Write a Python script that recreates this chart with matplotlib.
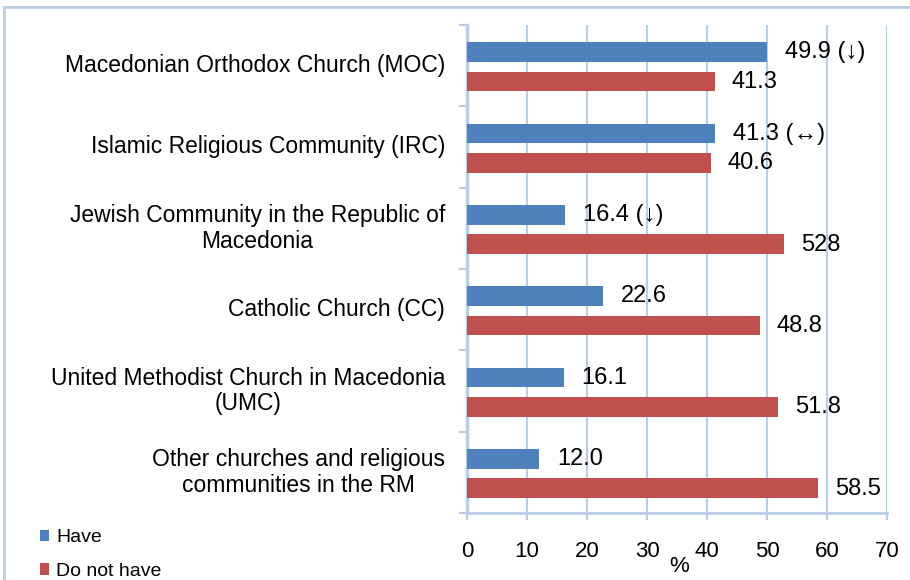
import matplotlib.pyplot as plt
import numpy as np
from matplotlib.patches import Rectangle

plt.rcParams['font.family'] = ['Liberation Sans', 'DejaVu Sans']

# data
categories = ['Macedonian Orthodox Church (MOC)',
              'Islamic Religious Community (IRC)',
              'Jewish Community in the Republic of\nMacedonia',
              'Catholic Church (CC)',
              'United Methodist Church in Macedonia\n(UMC)',
              'Other churches and religious\ncommunities in the RM']
have = [49.9, 41.3, 16.4, 22.6, 16.1, 12.0]
not_have = [41.3, 40.6, 52.8, 48.8, 51.8, 58.5]
have_labels = ['49.9 (\u2193)', '41.3 (\u2194)', '16.4 (\u2193)', '22.6', '16.1', '12.0']
not_have_labels = ['41.3', '40.6', '528', '48.8', '51.8', '58.5']

blue = '#4f81bd'
red = '#c0504d'
grid_c = '#b9cde5'

fig = plt.figure(figsize=(9.1, 5.8), dpi=100)
ax = fig.add_axes([0.513, 0.1155, 0.462, 0.8415])

# outer chart frame (cut off at right/bottom like the reference)
fig.patches.append(Rectangle((4 / 910, -0.1), 1.1, 1 - 7 / 580 + 0.1,
                             transform=fig.transFigure, fill=False,
                             edgecolor=grid_c, lw=2))

y = np.arange(len(categories))
h = 0.24
ax.barh(y - 0.165, have, height=h, color=blue, label='Have', zorder=3)
ax.barh(y + 0.195, not_have, height=h, color=red, label='Do not have', zorder=3)

for i in range(len(categories)):
    ax.text(have[i] + 3.0, y[i] - 0.165, have_labels[i], va='center', ha='left', fontsize=17)
    ax.text(not_have[i] + 2.8, y[i] + 0.2, not_have_labels[i], va='center', ha='left', fontsize=17)

ax.set_xlim(0, 70)
ax.set_ylim(len(categories) - 0.5, -0.5)
ax.set_xticks(range(0, 71, 10))
ax.tick_params(axis='x', labelsize=16, length=5, color=grid_c, width=1.5, pad=15)
ax.xaxis.grid(True, color=grid_c, lw=1.5, zorder=0)

# category separators as ticks on the left
ax.set_yticks(np.arange(-0.5, len(categories), 1))
ax.set_yticklabels([])
ax.tick_params(axis='y', length=6, color=grid_c, width=1.5)
for i, c in enumerate(categories):
    ax.text(-0.052, i, c, transform=ax.get_yaxis_transform(), ha='right', va='center',
            multialignment='center', fontsize=16.5, linespacing=1.15)

for s in ['top', 'right']:
    ax.spines[s].set_visible(False)
ax.spines['left'].set_color(grid_c)
ax.spines['left'].set_linewidth(2.5)
ax.spines['bottom'].set_color(grid_c)
ax.spines['bottom'].set_linewidth(2)

fig.text(679 / 910, 1 - 567 / 580, '%', fontsize=16, ha='center', va='center')

fig.legend(loc='lower left', bbox_to_anchor=(22 / 910, -0.03), frameon=False,
           fontsize=14, handlelength=0.5, handleheight=0.5, handletextpad=0.35,
           labelspacing=0.85)

fig.savefig('out.png', dpi=100)
